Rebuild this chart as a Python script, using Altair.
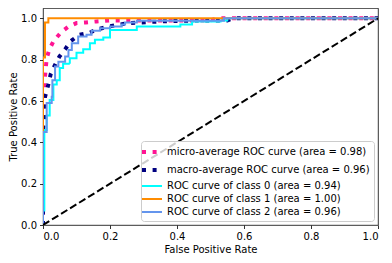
import altair as alt
import pandas as pd

# ---- data ----
names = [
    "micro-average ROC curve (area = 0.98)",
    "macro-average ROC curve (area = 0.96)",
    "ROC curve of class 0 (area = 0.94)",
    "ROC curve of class 1 (area = 1.00)",
    "ROC curve of class 2 (area = 0.96)",
]
colors = ["deeppink", "navy", "aqua", "darkorange", "cornflowerblue"]

micro_fpr = [0, 0, 0.003, 0.006, 0.011, 0.019, 0.031, 0.042, 0.056, 0.076, 0.1, 0.128, 0.16, 0.2, 0.3, 0.4, 0.5, 0.52, 1.0]
micro_tpr = [0, 0.45, 0.62, 0.72, 0.807, 0.85, 0.888, 0.91, 0.936, 0.96, 0.977, 0.98, 0.985, 0.99, 0.99, 0.99, 0.99, 1.0, 1.0]

macro_fpr = [0, 0, 0.004, 0.006, 0.016, 0.023, 0.036, 0.049, 0.066, 0.083, 0.108, 0.138, 0.165, 0.195, 0.225, 0.255, 0.35, 0.48, 0.55, 0.57, 1.0]
macro_tpr = [0, 0.45, 0.54, 0.62, 0.68, 0.73, 0.775, 0.815, 0.85, 0.89, 0.92, 0.93, 0.948, 0.96, 0.969, 0.977, 0.985, 0.99, 0.99, 1.0, 1.0]

# step curves: each point is the top of a vertical step
c0_fpr = [0, 0, 0.004, 0.011, 0.02, 0.031, 0.041, 0.05, 0.06, 0.08, 0.1, 0.12, 0.14, 0.155, 0.18, 0.2, 0.28, 0.41, 0.445, 0.53, 0.55, 1.0]
c0_tpr = [0, 0.07, 0.46, 0.53, 0.605, 0.68, 0.70, 0.76, 0.78, 0.807, 0.834, 0.85, 0.88, 0.896, 0.907, 0.944, 0.96, 0.97, 0.985, 0.99, 1.0, 1.0]

c1_fpr = [0, 0, 0.006, 0.016, 1.0]
c1_tpr = [0, 0.81, 0.98, 1.0, 1.0]

c2_fpr = [0, 0, 0.011, 0.026, 0.028, 0.036, 0.046, 0.066, 0.076, 0.086, 0.105, 0.13, 0.145, 0.17, 0.2, 0.235, 0.245, 0.28, 0.54, 1.0]
c2_tpr = [0, 0.45, 0.59, 0.62, 0.70, 0.767, 0.79, 0.815, 0.847, 0.88, 0.912, 0.92, 0.94, 0.952, 0.96, 0.97, 0.98, 0.988, 1.0, 1.0]

diag_fpr = [0, 1]
diag_tpr = [0, 1]

x_ticks = [0, 0.2, 0.4, 0.6, 0.8, 1.0]
y_ticks = [0, 0.2, 0.4, 0.6, 0.8, 1.0]


def frame(name, fpr, tpr):
    return pd.DataFrame({"fpr": fpr, "tpr": tpr, "series": name, "idx": list(range(len(fpr)))})


avg_df = pd.concat([frame(names[0], micro_fpr, micro_tpr), frame(names[1], macro_fpr, macro_tpr)])
cls_df = pd.concat([
    frame(names[2], c0_fpr, c0_tpr),
    frame(names[3], c1_fpr, c1_tpr),
    frame(names[4], c2_fpr, c2_tpr),
])
diag_df = pd.DataFrame({"fpr": diag_fpr, "tpr": diag_tpr})

xenc = alt.X("fpr:Q", scale=alt.Scale(domain=[0, 1], nice=False),
             axis=alt.Axis(values=x_ticks, format=".1f", title="False Positive Rate", titlePadding=3))
yenc = alt.Y("tpr:Q", scale=alt.Scale(domain=[0, 1.05], nice=False),
             axis=alt.Axis(values=y_ticks, format=".1f", title="True Positive Rate", titlePadding=2))

color = alt.Color("series:N", scale=alt.Scale(domain=names, range=colors), title=None,
                  legend=alt.Legend(orient="bottom-right", offset=4))
dash = alt.StrokeDash("series:N", scale=alt.Scale(type="ordinal", domain=names,
                      range=[[4, 6.6], [4, 6.6], [1, 0], [1, 0], [1, 0]]), title=None)
width = alt.StrokeWidth("series:N", scale=alt.Scale(type="ordinal", domain=names, range=[4, 4, 2, 2, 2]), title=None)

avg = alt.Chart(avg_df).mark_line(interpolate="linear", clip=True).encode(
    x=xenc, y=yenc, color=color, strokeDash=dash, strokeWidth=width, order=alt.Order("idx:Q"))
cls = alt.Chart(cls_df).mark_line(interpolate="step-after", clip=True).encode(
    x=xenc, y=yenc, color=color, strokeDash=dash, strokeWidth=width, order=alt.Order("idx:Q"))
diag = alt.Chart(diag_df).mark_line(color="black", strokeDash=[7.4, 3.2], strokeWidth=2, clip=True).encode(
    x="fpr:Q", y="tpr:Q")

chart = alt.layer(avg, cls, diag).properties(
    width=335, height=217,
    autosize=alt.AutoSizeParams(type="none"),
    padding={"left": 35, "top": 0, "right": 6, "bottom": 38},
).configure(font="DejaVu Sans").configure_view(
    stroke="black", strokeWidth=0.8
).configure_axis(
    grid=False, domain=False, labelFontSize=10, titleFontSize=10, titleFontWeight="normal",
    labelColor="black", titleColor="black", tickColor="black", tickSize=3.5, tickWidth=0.8,
    labelPadding=3, labelFont="DejaVu Sans", titleFont="DejaVu Sans",
).configure_legend(
    symbolType="M-2,0H2", symbolSize=100, labelFontSize=10, labelFont="DejaVu Sans", labelColor="black",
    padding=4, rowPadding=2, labelOffset=8, strokeColor="#cccccc",
    fillColor="rgba(255,255,255,0.8)", cornerRadius=3, labelLimit=0,
)

chart.save("out.html", embed_options={"renderer": "svg", "actions": False})
